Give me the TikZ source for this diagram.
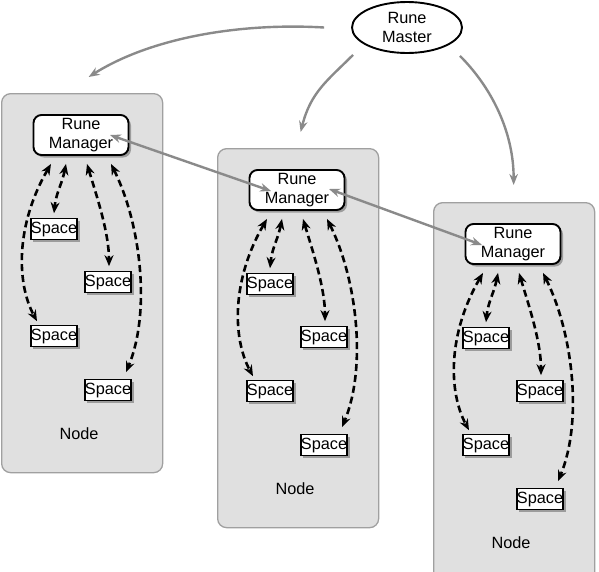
\documentclass[tikz,border=0pt]{standalone}
\usepackage{fontspec}
\setmainfont{Liberation Sans}
\usetikzlibrary{arrows.meta,shadows,shapes.geometric}
\definecolor{boxgray}{HTML}{E0E0E0}
\definecolor{boxline}{HTML}{A0A0A0}
\definecolor{arrgray}{HTML}{8A8A8A}
\begin{document}
\begin{tikzpicture}[x=1pt,y=-1pt,
  nodebox/.style={draw=boxline, fill=boxgray, rounded corners=9pt, line width=1.3pt,
    minimum width=161pt, minimum height=379pt, anchor=north west, inner sep=0pt},
  txt/.style={font=\fontsize{16.3}{18.5}\selectfont},
  manager/.style={txt, draw, line width=1.9pt, fill=white, rounded corners=8pt,
    minimum width=95pt, minimum height=40pt, align=center, inner sep=1pt,
    drop shadow={shadow xshift=2.5pt, shadow yshift=-2.5pt, fill=black, opacity=0.3}},
  spacebox/.style={txt, draw, line width=1.6pt, fill=white, minimum width=46pt,
    minimum height=21pt, inner sep=0pt,
    drop shadow={shadow xshift=2.5pt, shadow yshift=-2.5pt, fill=black, opacity=0.3}},
  master/.style={txt, draw, ellipse, line width=1.9pt, fill=white, minimum width=110pt,
    minimum height=51pt, align=center, inner sep=0pt},
  dasharrow/.style={line width=2.6pt, dash pattern=on 7pt off 4pt,
    {Stealth[length=11pt,width=9pt]}-{Stealth[length=11pt,width=9pt]}},
  grayarrow/.style={draw=arrgray, line width=2.4pt, -{Stealth[length=11pt,width=8.5pt]}},
  graydbl/.style={draw=arrgray, line width=2.4pt,
    {Stealth[length=11pt,width=8.5pt]}-{Stealth[length=11pt,width=8.5pt]}}
]
\clip (0,0) rectangle (599,571);
\useasboundingbox (0,0) rectangle (599,571);

\foreach \i/\ox/\oy in {1/1/93, 2/217/148, 3/433/202} {
  \node[nodebox] (box\i) at (\ox,\oy) {};
  \begin{scope}[shift={(\ox,\oy)}]
    \node[manager] (rm\i) at (80,42) {Rune\\Manager};
    \node[spacebox] (sa\i) at (53,136) {Space};
    \node[spacebox] (sb\i) at (107,189) {Space};
    \node[spacebox] (sc\i) at (53,243) {Space};
    \node[spacebox] (sd\i) at (107,297) {Space};
    \node[txt] (lbl\i) at (78,341) {Node};
    \draw[dasharrow] ([xshift=-15pt,yshift=-8pt]rm\i.south)
      .. controls +(-4,20) and +(2,-20) .. ([yshift=4.5pt]sa\i.north);
    \draw[dasharrow] ([xshift=-30pt,yshift=-8pt]rm\i.south)
      .. controls +(-35,60) and +(-21,-39) .. ([xshift=-17pt,yshift=3.5pt]sc\i.north);
    \draw[dasharrow] ([xshift=6pt,yshift=-8pt]rm\i.south)
      .. controls +(9,30) and +(0,-34) .. ([xshift=1pt,yshift=4.5pt]sb\i.north);
    \draw[dasharrow] ([xshift=30pt,yshift=-8pt]rm\i.south)
      .. controls +(30,60) and +(25,-60) .. ([xshift=18pt,yshift=6.5pt]sd\i.north);
  \end{scope}
}

\node[master] (mst) at (407,27.5) {Rune\\Master};

\draw[grayarrow] ([xshift=-27pt]mst.west)
  .. controls +(-85,-5) and +(62,-39) .. ([xshift=6.5pt,yshift=16pt]box1.north);
\draw[grayarrow] ([xshift=-54pt,yshift=-1pt]mst.south)
  .. controls +(-25,25) and +(10,-40) .. ([xshift=2.5pt,yshift=16pt]box2.north);
\draw[grayarrow] ([xshift=53pt,yshift=-2pt]mst.south)
  .. controls +(30,30) and +(0,-55) .. ([xshift=-0.5pt,yshift=17pt]box3.north);

\draw[graydbl] ([xshift=29pt]rm1.center) -- ([xshift=-26pt,yshift=-1pt]rm2.center);
\draw[graydbl] ([xshift=32pt,yshift=1pt]rm2.center) -- ([xshift=-31pt,yshift=-1pt]rm3.center);
\end{tikzpicture}
\end{document}
